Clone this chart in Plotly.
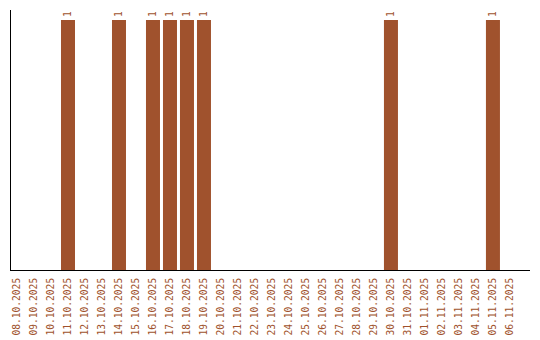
import plotly.graph_objects as go

dates = ["08.10.2025", "09.10.2025", "10.10.2025", "11.10.2025", "12.10.2025",
         "13.10.2025", "14.10.2025", "15.10.2025", "16.10.2025", "17.10.2025",
         "18.10.2025", "19.10.2025", "20.10.2025", "21.10.2025", "22.10.2025",
         "23.10.2025", "24.10.2025", "25.10.2025", "26.10.2025", "27.10.2025",
         "28.10.2025", "29.10.2025", "30.10.2025", "31.10.2025", "01.11.2025",
         "02.11.2025", "03.11.2025", "04.11.2025", "05.11.2025", "06.11.2025"]
counts = [0, 0, 0, 1, 0, 0, 1, 0, 1, 1, 1, 1, 0, 0, 0,
          0, 0, 0, 0, 0, 0, 0, 1, 0, 0, 0, 0, 0, 1, 0]
labels = [str(v) if v else "" for v in counts]

color = "#A0522D"
font = "DejaVu Sans Mono"

fig = go.Figure(go.Bar(
    x=dates, y=counts, marker_color=color, marker_line_width=0,
    text=labels, textposition="outside", textangle=-90,
    textfont=dict(family=font, size=9.6, color=color),
    cliponaxis=False,
))

fig.update_layout(
    width=540, height=340,
    margin=dict(l=11, r=10, t=10, b=70, autoexpand=False),
    plot_bgcolor="white", paper_bgcolor="white",
    bargap=0.176, showlegend=False,
    font=dict(family=font, size=9.6, color=color),
)
fig.update_xaxes(
    type="category", range=[-0.353, 30.18],
    showline=True, linecolor="black", linewidth=1,
    showgrid=False, ticks="", tickangle=-90,
    tickfont=dict(family=font, size=9.6, color=color),
    zeroline=False, automargin=False, ticklabelstandoff=3,
)
fig.update_yaxes(
    range=[0, 1.04], showline=True, linecolor="black", linewidth=1,
    showgrid=False, showticklabels=False, ticks="", zeroline=False,
    automargin=False,
)

fig.write_html("out.html")
